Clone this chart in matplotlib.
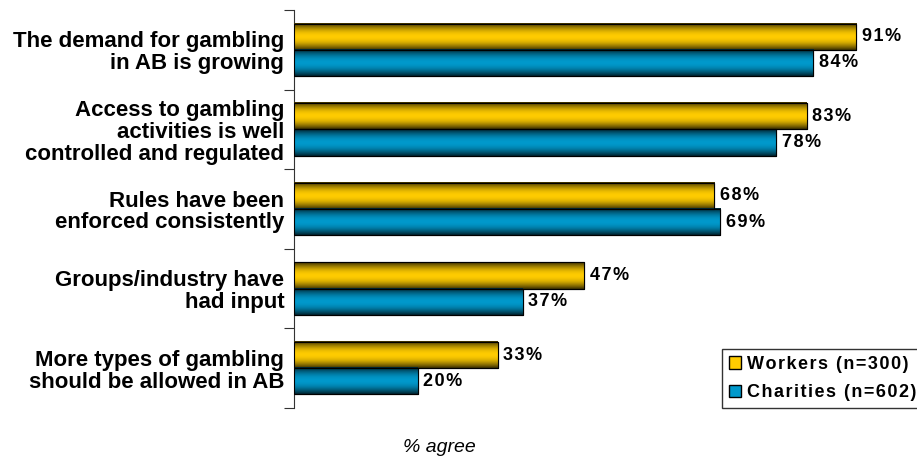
import numpy as np
import matplotlib
matplotlib.use("Agg")
import matplotlib.pyplot as plt
from matplotlib.colors import LinearSegmentedColormap
from matplotlib.patches import Patch

plt.rcParams['font.family'] = ['Liberation Sans', 'DejaVu Sans']

# data
categories = ["The demand for gambling\nin AB is growing",
              "Access to gambling\nactivities is well\ncontrolled and regulated",
              "Rules have been\nenforced consistently",
              "Groups/industry have\nhad input",
              "More types of gambling\nshould be allowed in AB"]
workers = [91, 83, 68, 47, 33]
charities = [84, 78, 69, 37, 20]
series_names = ["Workers (n=300)", "Charities (n=602)"]
yellow = "#FFCC00"
blue = "#0099CC"

HS = "\u200a"  # hair space, for the wide letter spacing of the original


def spaced(s):
    return HS.join(s)


def shaded(base):
    # cylinder-like shading: dark edges, bright middle
    base = np.array(matplotlib.colors.to_rgb(base))
    t = np.linspace(0, 1, 64)
    k = 0.22 + 0.78 * np.sin(np.pi * t) ** 0.9
    cols = [tuple(np.clip(base * v, 0, 1)) for v in k]
    return LinearSegmentedColormap.from_list("sh", cols)


fig = plt.figure(figsize=(9.17, 4.58), dpi=100)
ax = fig.add_axes([294 / 917, 1 - 408 / 458, 618 / 917, 398 / 458])

y = np.arange(len(categories))
h = 0.33
b1 = ax.barh(y - h / 2, workers, height=h, color=yellow, edgecolor="black", linewidth=0.8)
b2 = ax.barh(y + h / 2, charities, height=h, color=blue, edgecolor="black", linewidth=0.8)

grad = np.linspace(0, 1, 64).reshape(-1, 1)
for bars, c in ((b1, yellow), (b2, blue)):
    cm = shaded(c)
    for p in bars:
        x0, y0, w, hh = p.get_x(), p.get_y(), p.get_width(), p.get_height()
        ax.imshow(grad, cmap=cm, aspect="auto", origin="upper", interpolation="bilinear",
                  extent=(x0, x0 + w, y0 + hh, y0), zorder=3)
        ax.add_patch(plt.Rectangle((x0, y0), w, hh, fill=False, edgecolor="black",
                                   linewidth=0.8, zorder=4))

for bars, vals in ((b1, workers), (b2, charities)):
    for p, v in zip(bars, vals):
        ax.annotate(spaced("%d%%" % v), (p.get_width(), p.get_y() + p.get_height() / 2),
                    xytext=(4, 0), textcoords="offset points", va="center", ha="left",
                    fontsize=13, fontweight="bold")

ax.set_xlim(0, 100)
ax.set_ylim(len(categories) - 0.5, -0.5)
ax.set_yticks(np.arange(len(categories) + 1) - 0.5)
ax.set_yticklabels([])
ax.set_yticks(y, minor=True)
ax.set_yticklabels(categories, minor=True, fontsize=16, fontweight="bold", ha="right",
                   linespacing=1.05)
ax.tick_params(axis="y", which="major", direction="out", length=7, width=0.8, color="#333333")
ax.tick_params(axis="y", which="minor", length=0, pad=7)
ax.set_xticks([])
for s in ("top", "right", "bottom"):
    ax.spines[s].set_visible(False)
ax.spines["left"].set_color("#333333")
ax.spines["left"].set_linewidth(0.8)

fig.text(439 / 917, 1 - 447 / 458, "% agree", fontsize=14, style="italic",
         ha="center", va="center")

handles = [Patch(facecolor=yellow, edgecolor="black"), Patch(facecolor=blue, edgecolor="black")]
leg = fig.legend(handles, [spaced(s) for s in series_names], loc="lower left",
                 bbox_to_anchor=(722 / 917, 1 - 408 / 458),
                 frameon=True, fancybox=False, edgecolor="black", borderaxespad=0,
                 handlelength=0.7, handleheight=0.7, handletextpad=0.3, labelspacing=0.62,
                 prop={"weight": "bold", "size": 13}, borderpad=0.37)
leg.get_frame().set_linewidth(1)

fig.savefig("out.png", dpi=100)
